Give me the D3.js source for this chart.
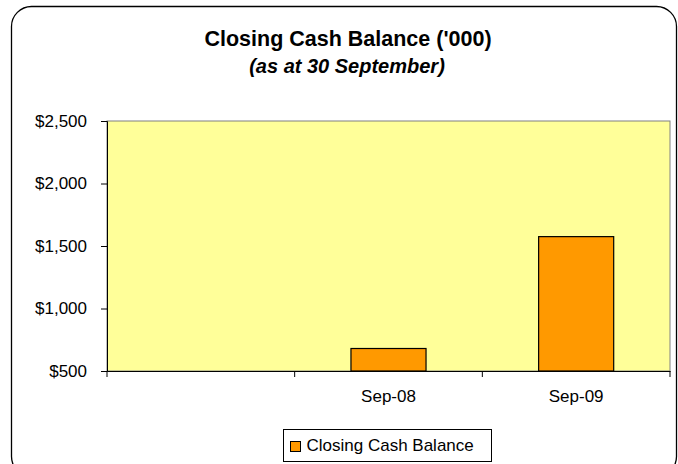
<!DOCTYPE html>
<html>
<head>
<meta charset="utf-8">
<script src="https://cdn.jsdelivr.net/npm/d3@7"></script>
<style>
  body { margin: 0; background: #fff; }
  text { font-family: Arial, "Liberation Sans", sans-serif; }
</style>
</head>
<body>
<svg id="canvas" width="678" height="464"></svg>
<script>
// chart data
let categories = ['', 'Sep-08', 'Sep-09']
let balances = [null, 680, 1575]
let yTicks = [500, 1000, 1500, 2000, 2500]
let seriesName = 'Closing Cash Balance'

let svg = d3.select('#canvas')

let plot = { left: 107, right: 670, top: 121, bottom: 371 }

// outer chart border (rounded)
svg.append('rect')
    .attr('x', 11.5).attr('y', 6.5)
    .attr('width', 665).attr('height', 470)
    .attr('rx', 20)
    .attr('fill', '#fff')
    .attr('stroke', '#000')
    .attr('stroke-width', 1.3)

// titles
svg.append('text')
    .attr('x', 348).attr('y', 46)
    .attr('text-anchor', 'middle')
    .style('font-size', '21.5px').style('font-weight', 'bold')
    .text("Closing Cash Balance ('000)")
svg.append('text')
    .attr('x', 347).attr('y', 73)
    .attr('text-anchor', 'middle')
    .style('font-size', '20px').style('font-weight', 'bold').style('font-style', 'italic')
    .text('(as at 30 September)')

let x = d3.scaleBand().domain(categories).range([plot.left, plot.right]).padding(0)
let y = d3.scaleLinear().domain([500, 2500]).range([plot.bottom, plot.top])

// plot area
svg.append('rect')
    .attr('x', plot.left).attr('y', plot.top)
    .attr('width', plot.right - plot.left).attr('height', plot.bottom - plot.top)
    .attr('fill', '#FFFF99')
    .attr('stroke', '#808080')
    .attr('stroke-width', 1)

// bars
let barW = x.step() * 0.4
svg.selectAll('rect.bar')
    .data(categories.map((c, i) => ({ c: c, v: balances[i] })).filter(d => d.v != null))
    .enter()
    .append('rect')
    .attr('class', 'bar')
    .attr('x', d => x(d.c) + (x.step() - barW) / 2)
    .attr('y', d => y(d.v))
    .attr('width', barW)
    .attr('height', d => y(500) - y(d.v))
    .attr('fill', '#FF9900')
    .attr('stroke', '#000')
    .attr('stroke-width', 1.2)

// y axis
let yAxis = svg.append('g')
    .attr('transform', `translate(${plot.left},0)`)
    .call(d3.axisLeft(y).tickValues(yTicks).tickSize(6).tickPadding(14)
        .tickFormat(d => '$' + d3.format(',')(d)))
yAxis.select('.domain').attr('stroke', '#000')
yAxis.selectAll('text').style('font-size', '17px').attr('fill', '#000')

// x axis: labels at band centers, ticks at band edges
let xAxis = svg.append('g')
    .attr('transform', `translate(0,${plot.bottom})`)
    .call(d3.axisBottom(x).tickSize(0).tickPadding(19))
xAxis.select('.domain').attr('stroke', '#000')
xAxis.selectAll('text').style('font-size', '17px').attr('fill', '#000')

let edges = categories.map(c => x(c)).concat([x(categories[categories.length - 1]) + x.step()])
svg.selectAll('line.xtick')
    .data(edges)
    .enter()
    .append('line')
    .attr('class', 'xtick')
    .attr('x1', d => d).attr('x2', d => d)
    .attr('y1', plot.bottom).attr('y2', plot.bottom + 6)
    .attr('stroke', '#000')

// legend
let legend = svg.append('g').attr('transform', 'translate(283.5,429.5)')
legend.append('rect')
    .attr('width', 208).attr('height', 32)
    .attr('fill', '#fff').attr('stroke', '#000')
legend.append('rect')
    .attr('x', 7).attr('y', 12)
    .attr('width', 10).attr('height', 10)
    .attr('fill', '#FF9900').attr('stroke', '#000')
legend.append('text')
    .attr('x', 23).attr('y', 21)
    .style('font-size', '17px')
    .text(seriesName)
</script>
</body>
</html>
